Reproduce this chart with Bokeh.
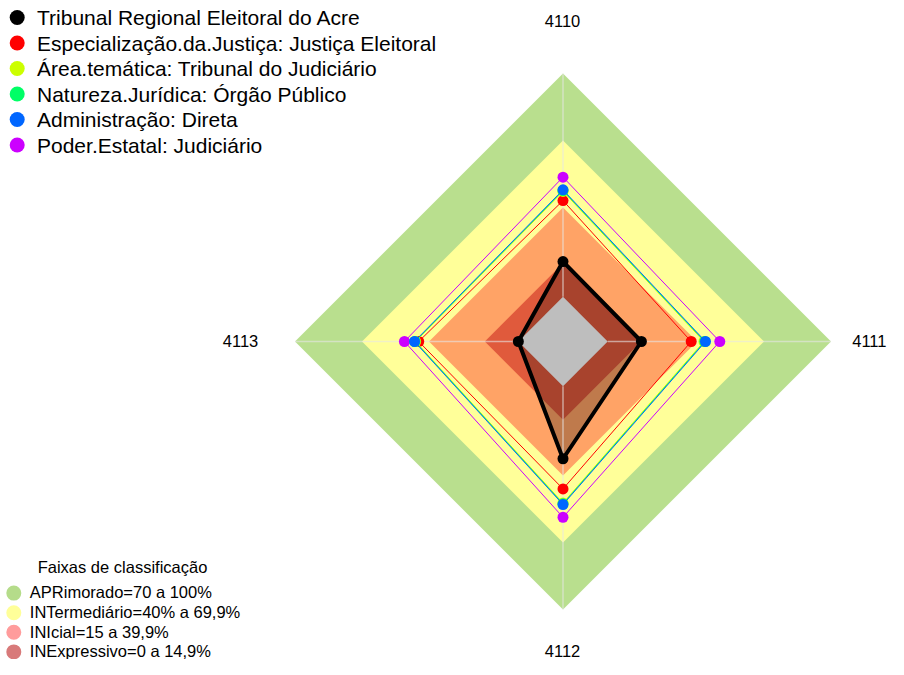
import numpy as np
from bokeh.plotting import figure
from bokeh.models import Range1d
from bokeh.core.properties import value
from bokeh.embed import file_html
from bokeh.resources import INLINE

# ---------------- data ----------------
axis_labels = ["4110", "4111", "4112", "4113"]
axis_angles_deg = [90, 0, -90, 180]

series_names = [
    "Tribunal Regional Eleitoral do Acre",
    "Especialização.da.Justiça: Justiça Eleitoral",
    "Área.temática: Tribunal do Judiciário",
    "Natureza.Jurídica: Órgão Público",
    "Administração: Direta",
    "Poder.Estatal: Judiciário",
]
series_colors = ["#000000", "#FF0000", "#CCFF00", "#00FF66", "#0066FF", "#CC00FF"]

tre_acre = [15.8, 15.1, 32.5, 0.0]
especializacao = [43.1, 37.4, 46.0, 44.6]
area_tematica = [47.2, 43.1, 52.3, 46.0]
natureza_juridica = [47.6, 43.5, 52.7, 46.3]
administracao = [47.9, 43.8, 53.0, 46.5]
poder_estatal = [53.6, 50.2, 58.7, 51.0]

band_title = "Faixas de classificação"
band_labels = [
    "APRimorado=70 a 100%",
    "INTermediário=40% a 69,9%",
    "INIcial=15 a 39,9%",
    "INExpressivo=0 a 14,9%",
]
band_limits = [100, 70, 40, 15]
band_fill = ["#B9DF8E", "#FFFF99", "#FFA366", "#E05A3C"]
band_legend_colors = ["#B5DC8A", "#FFFF99", "#FF9C9C", "#D87A7A"]
center_fill = "#BEBEBE"

# ---------------- geometry helpers ----------------
SEG = 5  # radial segments; value 0 sits at 1/(SEG+1) of the radius
CX, CY, RPX = 562.5, 341.0, 268.0
W, H = 888, 659
ang = np.deg2rad(np.array(axis_angles_deg, dtype=float))


def radius(v):
    return (1 + SEG * np.asarray(v, dtype=float) / 100.0) / (SEG + 1)


def polar(vals):
    r = radius(vals)
    return list(r * np.cos(ang)), list(r * np.sin(ang))


def wx(px):
    return (px - CX) / RPX


def wy(py):
    return (CY - py) / RPX


def base(py, size):
    # compensate the baseline shift of the svg text renderer
    return wy(py - 0.38 * size)


p = figure(
    width=W, height=H,
    x_range=Range1d(wx(0), wx(W)), y_range=Range1d(wy(H), wy(0)),
    output_backend="svg", toolbar_location=None, min_border=0,
    x_axis_type=None, y_axis_type=None, outline_line_color=None,
)
p.grid.visible = False
p.background_fill_color = "white"

FONT = value("Liberation Sans")

# bands
for lim, col in zip(band_limits, band_fill):
    xs, ys = polar([lim] * 4)
    p.patch(xs, ys, fill_color=col, line_color=None)

# black series fill
bx, by = polar(tre_acre)
p.patch(bx, by, fill_color="black", fill_alpha=0.25, line_color=None)

# centre
xs, ys = polar([0] * 4)
p.patch(xs, ys, fill_color=center_fill, line_color=None)

# axis spokes
r0, r1 = radius(0), radius(100)
p.segment(x0=list(r0 * np.cos(ang)), y0=list(r0 * np.sin(ang)),
          x1=list(r1 * np.cos(ang)), y1=list(r1 * np.sin(ang)),
          line_color="#E6E6E6", line_alpha=0.6, line_width=1.5)

# series
all_series = [tre_acre, especializacao, area_tematica, natureza_juridica, administracao, poder_estatal]
draw_order = [5, 1, 2, 3, 4, 0]
for i in draw_order:
    xs, ys = polar(all_series[i])
    lw = 4 if i == 0 else 1
    p.line(xs + xs[:1], ys + ys[:1], line_color=series_colors[i], line_width=lw)
    p.scatter(xs, ys, size=11, marker="circle", fill_color=series_colors[i], line_color=None)

# axis labels
LS = 16.5
lab_pos = [(562, 27, "center"), (886, 347, "right"), (562, 657, "center"), (240, 347, "center")]
for (px, py, al), t in zip(lab_pos, axis_labels):
    p.text(x=[wx(px)], y=[base(py, LS)], text=[t], text_font=FONT, text_font_size=f"{LS}px",
           text_align=al, text_baseline="alphabetic", text_color="black")

# top legend
TS = 21
for k, (name, col) in enumerate(zip(series_names, series_colors)):
    cy = 17 + 25.5 * k
    p.scatter([wx(16.7)], [wy(cy)], size=15, marker="circle", fill_color=col, line_color=None)
    p.text(x=[wx(36.5)], y=[base(cy + 8, TS)], text=[name], text_font=FONT, text_font_size=f"{TS}px",
           text_align="left", text_baseline="alphabetic", text_color="black")

# bottom legend
LEG_DY = -5
p.text(x=[wx(122)], y=[base(577.7 + LEG_DY, LS)], text=[band_title], text_font=FONT,
       text_font_size=f"{LS}px", text_align="center", text_baseline="alphabetic", text_color="black")
for k, (name, col) in enumerate(zip(band_labels, band_legend_colors)):
    cy = 597.6 + LEG_DY + 19.6 * k
    p.scatter([wx(13.3)], [wy(cy)], size=15, marker="circle", fill_color=col, line_color=None)
    p.text(x=[wx(29.3)], y=[base(cy + 5.6, LS)], text=[name], text_font=FONT, text_font_size=f"{LS}px",
           text_align="left", text_baseline="alphabetic", text_color="black")

open("out.html", "w").write(file_html(p, INLINE))
